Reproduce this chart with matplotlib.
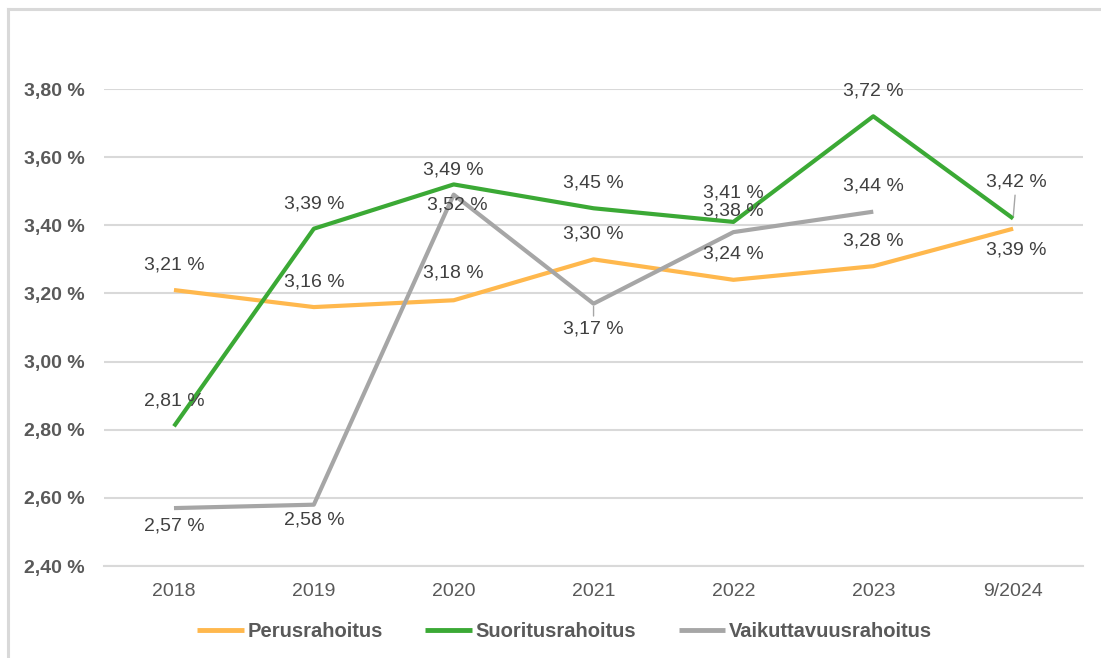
import matplotlib.pyplot as plt
from matplotlib.lines import Line2D

plt.rcParams['font.family'] = ['Liberation Sans', 'DejaVu Sans']

years = ['2018', '2019', '2020', '2021', '2022', '2023', '9/2024']
perus = [3.21, 3.16, 3.18, 3.30, 3.24, 3.28, 3.39]
suoritus = [2.81, 3.39, 3.52, 3.45, 3.41, 3.72, 3.42]
vaikuttavuus = [2.57, 2.58, 3.49, 3.17, 3.38, 3.44]
yticks = [2.40, 2.60, 2.80, 3.00, 3.20, 3.40, 3.60, 3.80]

# label offsets in pixels (dx, dy), manual placement as in the original
perus_off = [(0, 25), (0, 25), (0, 27), (0, 25), (0, 26), (0, 25), (3, -21)]
suor_off = [(0, 25), (0, 25), (4, -21), (0, 25), (0, 29), (0, 25), (3, 36)]
vaik_off = [(0, -18), (0, -15), (0, 25), (0, -25), (0, 21), (0, 26)]

series = [
    ('Perusrahoitus', perus, '#FFB84D', perus_off),
    ('Suoritusrahoitus', suoritus, '#3BA935', suor_off),
    ('Vaikuttavuusrahoitus', vaikuttavuus, '#A6A6A6', vaik_off),
]


def fmt(v):
    return f'{v:.2f}'.replace('.', ',') + ' %'


fig = plt.figure(figsize=(11.01, 6.58), dpi=100)
ax = fig.add_axes([0.0945, 0.1398, 0.8892, 0.7249])

x = list(range(len(years)))
for name, vals, color, offs in series:
    xs = x[:len(vals)]
    ax.plot(xs, vals, color=color, lw=3, label=name, solid_capstyle='butt', zorder=3)
    for xi, v, (dx, dy) in zip(xs, vals, offs):
        leader = abs(dy) > 30 or (name == 'Vaikuttavuusrahoitus' and dy == -25)
        ax.annotate(fmt(v), (xi, v), xytext=(dx, dy), textcoords='offset pixels',
                    ha='center', va='center', fontsize=14, color='#404040', zorder=4,
                    arrowprops=dict(arrowstyle='-', color='#A6A6A6', lw=1,
                                    shrinkA=1, shrinkB=2) if leader else None)

ax.set_xlim(-0.5, len(years) - 0.5)
ax.set_ylim(2.40, 3.80)
ax.set_xticks(x)
ax.set_xticklabels(years)
ax.set_yticks(yticks)
ax.set_yticklabels([fmt(t) for t in yticks], fontweight='bold')
ax.tick_params(axis='x', length=0, labelsize=14, colors='#595959', pad=12)
ax.tick_params(axis='y', length=0, labelsize=14, colors='#595959', pad=14)
ax.grid(axis='y', color='#D9D9D9', lw=1.5)
ax.set_axisbelow(True)
for s in ['top', 'right', 'left']:
    ax.spines[s].set_visible(False)
ax.spines['bottom'].set_color('#D9D9D9')
ax.spines['bottom'].set_linewidth(1.5)

leg = fig.legend(loc='center', bbox_to_anchor=(0.513, 0.04), ncol=3, frameon=False,
                 handlelength=2.3, handletextpad=0.2, columnspacing=2.1,
                 prop={'size': 14.5, 'weight': 'bold'})
for t in leg.get_texts():
    t.set_color('#595959')
for h in leg.legend_handles:
    h.set_linewidth(3.5)

# chart border (left and top visible)
fig.add_artist(Line2D([8 / 1101, 8 / 1101], [0, 1 - 9 / 658], color='#D9D9D9', lw=2.2))
fig.add_artist(Line2D([8 / 1101, 1], [1 - 9 / 658, 1 - 9 / 658], color='#D9D9D9', lw=2.2))

fig.savefig('out.png', dpi=100)
